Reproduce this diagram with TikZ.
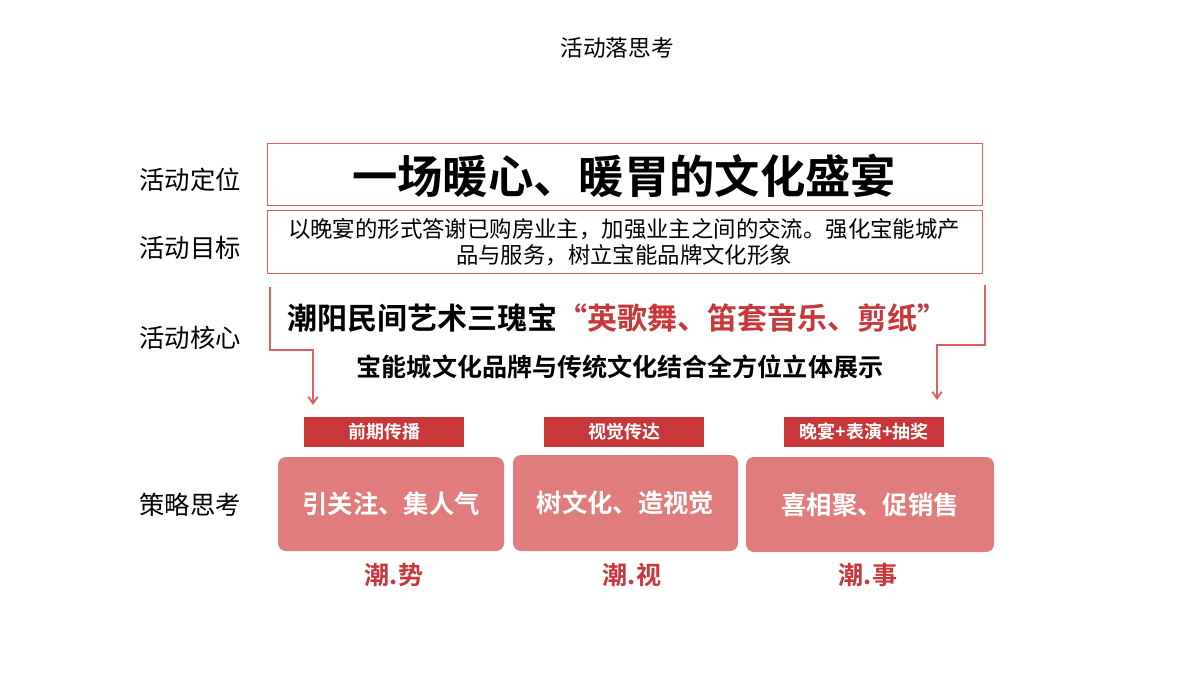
\documentclass[tikz,border=0pt]{standalone}
\usepackage{fontspec}
\newfontfamily\cjk{Noto Sans CJK SC}
\newfontfamily\cjkb{Noto Sans CJK SC Bold}
\usetikzlibrary{arrows.meta}
\definecolor{dred}{HTML}{C8373A}
\definecolor{pink}{HTML}{E07C7C}
\definecolor{lred}{HTML}{E06060}
\begin{document}
\begin{tikzpicture}[x=0.75pt,y=-0.75pt,
 lab/.style={font=\cjk\fontsize{19}{21}\selectfont},
 tag/.style={fill=dred,minimum width=120pt,minimum height=22pt,inner sep=0pt,text=white,font=\cjkb\fontsize{13.5}{15}\selectfont},
 big/.style={fill=pink,rounded corners=6pt,inner sep=0pt,text=white,font=\cjkb\fontsize{19}{22}\selectfont},
 bot/.style={text=dred,font=\cjkb\fontsize{18.8}{21}\selectfont},
 conn/.style={draw=lred,line width=1.4pt,-{Straight Barb[length=5pt,width=7pt]}}]
\useasboundingbox (0,0) rectangle (1200,675);
\node[font=\cjk\fontsize{17}{19}\selectfont] (t) at (617,48) {活动落思考};
\node[lab] (l1) at (190,180) {活动定位};
\node[lab] (l2) at (190,248) {活动目标};
\node[lab] (l3) at (190,338) {活动核心};
\node[lab] (l4) at (190,505) {策略思考};
\draw[lred,line width=0.6pt] (267,143) rectangle (982,205);
\node[font=\cjkb\fontsize{34}{38}\selectfont] (h) at (624,176) {一场暖心、暖胃的文化盛宴};
\draw[lred,line width=0.6pt] (267,210) rectangle (982,273);
\node[align=center,font=\cjk\fontsize{16.8}{20}\selectfont] (g) at (624,242) {以晚宴的形式答谢已购房业主，加强业主之间的交流。强化宝能城产\\品与服务，树立宝能品牌文化形象};
\node[font=\cjkb\fontsize{22.5}{25}\selectfont] (c1) at (617,318) {潮阳民间艺术三瑰宝\textcolor{dred}{“英歌舞、笛套音乐、剪纸”}};
\node[font=\cjkb\fontsize{18.8}{21}\selectfont] (c2) at (620,367) {宝能城文化品牌与传统文化结合全方位立体展示};
\coordinate (a1) at (270,287); \coordinate (a2) at (313,405);
\coordinate (b1) at (985,285); \coordinate (b2) at (937,400);
\draw[conn] (a1) |- (313,350) -- (a2);
\draw[conn] (b1) |- (937,345) -- (b2);
\node[tag] (s1) at (384,432) {前期传播};
\node[tag] (s2) at (624,432) {视觉传达};
\node[tag] (s3) at (864,432) {晚宴+表演+抽奖};
\node[big,minimum width=169.5pt,minimum height=70.5pt] (p1) at (391,504) {引关注、集人气};
\node[big,minimum width=168.75pt,minimum height=72pt] (p2) at (625.5,503) {树文化、造视觉};
\node[big,minimum width=186pt,minimum height=71.25pt] (p3) at (870,504.5) {喜相聚、促销售};
\node[bot] (n1) at (394,575) {潮.势};
\node[bot] (n2) at (632,575) {潮.视};
\node[bot] (n3) at (868,575) {潮.事};
\end{tikzpicture}
\end{document}
